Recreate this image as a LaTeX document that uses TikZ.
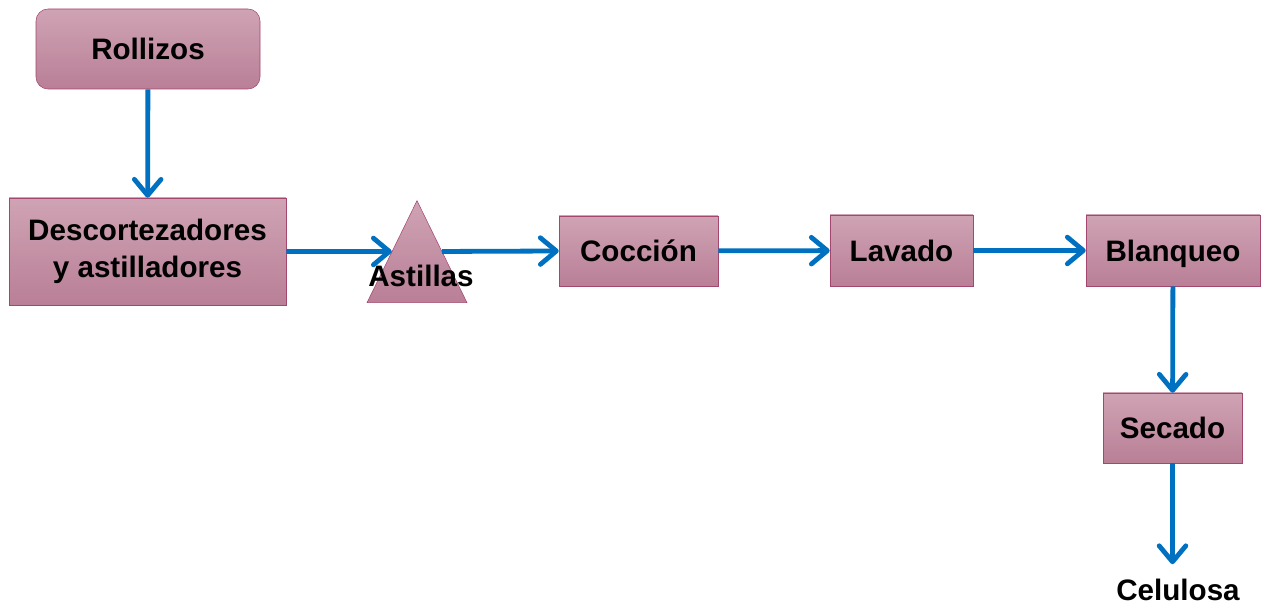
\documentclass[tikz,border=0pt]{standalone}
\usepackage{fontspec}
\setmainfont{Liberation Sans}
\usetikzlibrary{arrows.meta,shapes.geometric}
\definecolor{BoxTop}{HTML}{CFA3B4}
\definecolor{BoxBot}{HTML}{B97F96}
\definecolor{BoxEdge}{HTML}{A3476F}
\definecolor{FlowBlue}{HTML}{0070C0}
\newcommand{\flowfont}{\fontsize{22.2}{27.5}\selectfont\bfseries}
\tikzset{
  stagebox/.style={draw=BoxEdge, top color=BoxTop, bottom color=BoxBot, align=center, inner sep=0pt, font=\flowfont},
  oneline/.style={text height=16pt, text depth=0pt},
  stagetri/.style={draw=BoxEdge, top color=BoxTop, bottom color=BoxBot, isosceles triangle, isosceles triangle stretches, shape border rotate=90, inner sep=0pt},
  stagetext/.style={align=center, inner sep=0pt, font=\flowfont},
  flowarrow/.style={-{Straight Barb[length=12pt,width=20pt,line cap=round,line join=round]}, line width=3.6pt, draw=FlowBlue}
}

\begin{document}
\begin{tikzpicture}[x=0.75pt,y=0.75pt]
  \useasboundingbox (0,0) rectangle (1261,606);
  % process stages
  \node[stagebox, oneline, rounded corners=9pt, minimum width=168pt, minimum height=60pt] (rollizos) at (148,557) {Rollizos};
  \node[stagebox, minimum width=207.75pt, minimum height=80.25pt] (descort) at (147.5,354.5) {Descortezadores\\y astilladores};
  \node[stagetri, minimum width=75pt, minimum height=76.5pt, anchor=apex] (astillas) at (417,406) {};
  \node[stagetext] (astlbl) at (421,330) {Astillas};
  \node[stagebox, oneline, minimum width=119.25pt, minimum height=52.5pt] (coccion) at (638.5,355) {Cocción};
  \node[stagebox, oneline, minimum width=107.25pt, minimum height=53.25pt] (lavado) at (901.5,355.5) {Lavado};
  \node[stagebox, oneline, minimum width=130.5pt, minimum height=53.25pt] (blanqueo) at (1173,355.5) {Blanqueo};
  \node[stagebox, oneline, minimum width=104.25pt, minimum height=52.5pt] (secado) at (1172.5,178) {Secado};
  \node[stagetext] (celulosa) at (1178,16) {Celulosa};
  % flow
  \draw[flowarrow] (rollizos) -- (descort);
  \draw[flowarrow] (descort.east) -- (astillas.left side);
  \draw[flowarrow] (astillas.right side) -- (coccion.west);
  \draw[flowarrow] (coccion) -- (lavado);
  \draw[flowarrow] (lavado) -- (blanqueo);
  \draw[flowarrow] (blanqueo) -- (secado);
  \draw[flowarrow, shorten >=11pt] (secado) -- (secado |- celulosa.north);
\end{tikzpicture}
\end{document}
